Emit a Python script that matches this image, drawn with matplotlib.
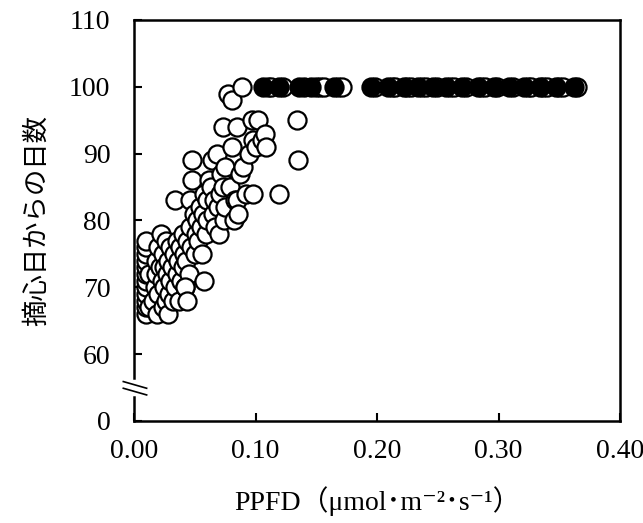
import matplotlib
matplotlib.use("Agg")
import matplotlib.pyplot as plt
from matplotlib.lines import Line2D

plt.rcParams['font.family'] = ['Liberation Serif', 'Noto Sans CJK JP', 'DejaVu Sans']

# ---- data (PPFD, days from pinching) ----
open_x = [0.010, 0.010, 0.010, 0.010, 0.010, 0.010, 0.010, 0.010, 0.010, 0.010, 0.010, 0.010, 0.012, 0.012,
          0.016, 0.017, 0.018, 0.018, 0.019, 0.020, 0.020, 0.021,
          0.022, 0.023, 0.024, 0.024, 0.025, 0.025, 0.026, 0.026, 0.027, 0.028, 0.028, 0.029, 0.030, 0.030, 0.031, 0.032,
          0.033, 0.034, 0.035, 0.035, 0.036, 0.037, 0.038, 0.039, 0.040, 0.040, 0.041, 0.042, 0.043, 0.044, 0.045, 0.034,
          0.046, 0.046, 0.047, 0.048, 0.048, 0.049, 0.050, 0.051, 0.052, 0.053, 0.054, 0.055, 0.056, 0.057, 0.058, 0.059, 0.060, 0.060,
          0.062, 0.063, 0.064, 0.065, 0.066, 0.067, 0.068, 0.069, 0.070, 0.071, 0.072, 0.073, 0.073, 0.074, 0.075, 0.075,
          0.077, 0.079, 0.081, 0.081, 0.082, 0.083, 0.085, 0.085, 0.086, 0.087, 0.089, 0.090, 0.092, 0.095, 0.097, 0.098, 0.098, 0.100,
          0.102, 0.105, 0.108, 0.109, 0.119, 0.134, 0.135, 0.042, 0.044, 0.058]
open_y = [66, 67, 68, 69, 70, 71, 72, 73, 74, 75, 76, 77, 67, 72,
          68, 70, 72, 74, 66, 76, 69, 73,
          78, 71, 67, 75, 70, 73, 77, 68, 72, 74, 66, 69, 71, 76, 73, 68,
          75, 70, 77, 72, 74, 68, 76, 71, 73, 78, 75, 70, 74, 77, 72, 83,
          79, 83, 76, 86, 89, 81, 75, 78, 80, 77, 82, 79, 75, 81, 84, 78, 83, 80,
          86, 85, 89, 81, 83, 79, 90, 82, 78, 84, 87, 85, 94, 80, 88, 82,
          99, 85, 98, 91, 80, 83, 94, 83, 81, 87, 100, 88, 84, 90, 95, 92, 84, 91,
          95, 92, 93, 91, 84, 95, 89, 70, 68, 71]

open100_x = [0.110, 0.113, 0.123, 0.140, 0.150, 0.153, 0.156, 0.168, 0.171, 0.198, 0.212, 0.215, 0.225, 0.228,
             0.237, 0.240, 0.249, 0.260, 0.263, 0.273, 0.286, 0.289, 0.299, 0.312, 0.324, 0.327, 0.337, 0.340,
             0.350, 0.353, 0.365]
open100_y = [100] * len(open100_x)

filled_x = [0.106, 0.119, 0.136, 0.146, 0.165, 0.195, 0.209, 0.222, 0.234, 0.246, 0.257, 0.270, 0.283,
            0.296, 0.309, 0.321, 0.334, 0.347, 0.362]
filled_y = [100] * len(filled_x)

y_ticks = [50, 60, 70, 80, 90, 100, 110]
y_ticklabels = ['0', '60', '70', '80', '90', '100', '110']
x_ticks = [0.0, 0.1, 0.2, 0.3, 0.4]
x_ticklabels = ['0.00', '0.10', '0.20', '0.30', '0.40']

fig = plt.figure(figsize=(6.43, 5.23), dpi=100)
ax = fig.add_axes([134 / 643, 1 - 421 / 523, (620 - 134) / 643, (421 - 20) / 523])

ms = 170
lw = 1.6
ax.scatter(open_x, open_y, s=ms, facecolor='white', edgecolor='black', linewidth=lw, zorder=3, clip_on=False)
ax.scatter(open100_x, open100_y, s=ms, facecolor='white', edgecolor='black', linewidth=lw, zorder=3, clip_on=False)
ax.scatter(filled_x, filled_y, s=ms, facecolor='black', edgecolor='black', linewidth=lw, zorder=4, clip_on=False)

ax.set_xlim(0, 0.4)
ax.set_ylim(50, 110)
ax.set_xticks(x_ticks)
ax.set_xticklabels(x_ticklabels)
ax.set_yticks(y_ticks)
ax.set_yticklabels(y_ticklabels)
ax.tick_params(direction='in', length=6, width=1.5, labelsize=20)
ax.tick_params(axis='x', pad=13)
ax.tick_params(axis='y', pad=17)

for s in ['top', 'right', 'bottom']:
    ax.spines[s].set_linewidth(1.8)
ax.spines['left'].set_visible(False)

# broken left spine
tr = ax.get_yaxis_transform()
ax.add_line(Line2D([0, 0], [50, 53.6], transform=tr, color='black', lw=1.8, clip_on=False, zorder=5))
ax.add_line(Line2D([0, 0], [56.4, 110], transform=tr, color='black', lw=1.8, clip_on=False, zorder=5))
# break marks "//"
ax.add_line(Line2D([-0.022, 0.026], [55.9, 54.9], transform=tr, color='black', lw=1.2, clip_on=False))
ax.add_line(Line2D([-0.022, 0.026], [54.9, 53.9], transform=tr, color='black', lw=1.2, clip_on=False))

ax.set_ylabel('摘心日からの日数', fontsize=19, family=['Noto Sans CJK JP'], labelpad=14)
ax.set_xlabel('PPFD（μmol･m⁻²･s⁻¹）', fontsize=20, labelpad=16)

fig.savefig('out.png', dpi=100)
